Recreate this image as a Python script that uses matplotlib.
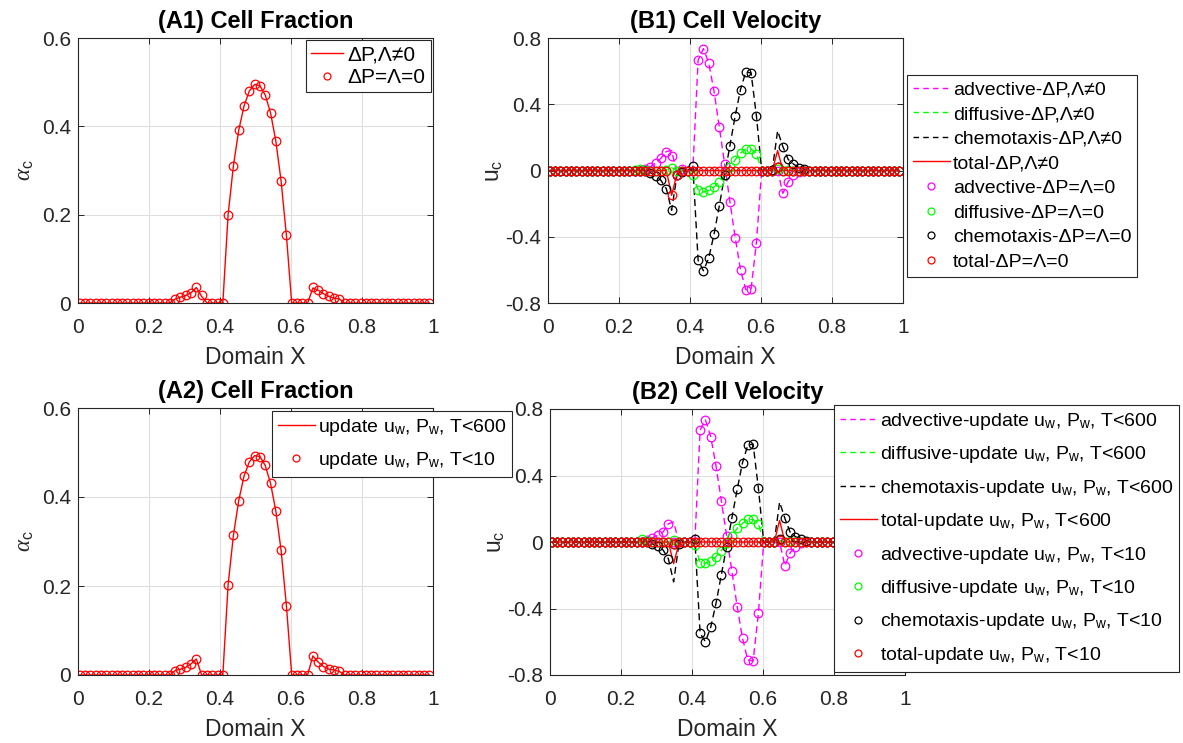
import numpy as np
import matplotlib
matplotlib.use("Agg")
import matplotlib.pyplot as plt
from matplotlib.lines import Line2D

plt.rcParams['font.family'] = ['Liberation Sans', 'DejaVu Sans']
plt.rcParams['mathtext.fontset'] = 'custom'
plt.rcParams['mathtext.rm'] = 'Liberation Sans'
plt.rcParams['mathtext.it'] = 'Liberation Serif:italic'
plt.rcParams['mathtext.bf'] = 'Liberation Sans:bold'

# --- grid (67 sample points) ---
x = np.linspace(0.005, 0.99, 67)
K0 = 16  # values below are for grid index 16..50, zero elsewhere

# --- (A) cell fraction ---
alpha_a1_line = [0, 0, 0.009, 0.013, 0.017, 0.023, 0.035, 0.015, 0, 0, 0, 0,
                 0.200, 0.311, 0.391, 0.446, 0.480, 0.495, 0.492, 0.471, 0.431, 0.367, 0.276, 0.153,
                 0, 0, 0, 0, 0.034, 0.029, 0.021, 0.015, 0.011, 0.009, 0]
alpha_a1_pts = [0, 0, 0.009, 0.013, 0.017, 0.023, 0.036, 0.017, 0, 0, 0, 0,
                0.200, 0.311, 0.391, 0.446, 0.480, 0.495, 0.492, 0.471, 0.431, 0.367, 0.276, 0.153,
                0, 0, 0, 0, 0.036, 0.029, 0.021, 0.015, 0.011, 0.009, 0]
alpha_a2_line = [0, 0, 0.010, 0.013, 0.017, 0.025, 0.036, 0, 0, 0, 0, 0,
                 0.203, 0.314, 0.392, 0.447, 0.479, 0.493, 0.491, 0.471, 0.431, 0.369, 0.280, 0.156,
                 0, 0, 0, 0, 0.043, 0.029, 0.019, 0.013, 0.011, 0.008, 0]
alpha_a2_pts = [0, 0, 0.010, 0.013, 0.017, 0.025, 0.036, 0, 0, 0, 0, 0,
                0.203, 0.314, 0.392, 0.447, 0.479, 0.493, 0.491, 0.471, 0.431, 0.369, 0.280, 0.156,
                0, 0, 0, 0, 0.043, 0.029, 0.019, 0.013, 0.011, 0.008, 0]

# --- (B1) cell velocity ---
adv_b1_line = [0, 0, 0.01, 0.023, 0.045, 0.075, 0.115, 0.12, -0.02, 0.01, 0, 0,
               0.666, 0.736, 0.650, 0.479, 0.262, 0.040, -0.188, -0.405, -0.600, -0.720, -0.714, -0.435,
               0, 0, 0, 0, -0.138, -0.067, -0.030, -0.010, -0.004, 0, 0]
adv_b1_pts = [0, 0, 0.01, 0.023, 0.045, 0.075, 0.113, 0.09, -0.03, 0.01, 0, 0,
              0.666, 0.736, 0.650, 0.479, 0.262, 0.040, -0.188, -0.405, -0.600, -0.720, -0.714, -0.435,
              0, 0, 0, 0, -0.138, -0.067, -0.030, -0.010, -0.004, 0, 0]
dif_b1_line = [0.005, 0.01, 0.005, 0, 0, 0, 0.005, 0.017, 0, 0, 0, -0.03,
               -0.117, -0.130, -0.120, -0.100, -0.070, -0.025, 0.020, 0.065, 0.105, 0.130, 0.130, 0.100,
               0, 0, 0, 0.01, 0, 0.005, 0, 0, 0, 0, 0]
dif_b1_pts = [0.005, 0.01, 0.005, 0, 0, 0, 0.005, 0.017, 0, 0, 0, -0.03,
              -0.117, -0.130, -0.120, -0.100, -0.070, -0.025, 0.020, 0.065, 0.105, 0.130, 0.130, 0.100,
              0, 0, 0, 0.01, 0, 0.005, 0, 0, 0, 0, 0]
chm_b1_line = [0, 0, 0, -0.013, -0.033, -0.06, -0.11, -0.24, -0.03, -0.01, 0, 0.027,
               -0.543, -0.605, -0.529, -0.385, -0.213, -0.030, 0.150, 0.330, 0.489, 0.595, 0.589, 0.330,
               0, 0, 0.003, 0.24, 0.144, 0.067, 0.039, 0.017, 0.007, 0, 0]
chm_b1_pts = [0, 0, 0, -0.013, -0.033, -0.06, -0.11, -0.24, -0.03, -0.01, 0, 0.027,
              -0.543, -0.605, -0.529, -0.385, -0.213, -0.030, 0.150, 0.330, 0.489, 0.595, 0.589, 0.330,
              0, 0, 0.003, 0.02, 0.144, 0.067, 0.039, 0.017, 0.007, 0, 0]
tot_b1_line = [0, 0, 0, 0, 0, 0, 0, -0.15, -0.02, 0, 0, 0,
               0, 0, 0, 0, 0, 0, 0, 0, 0, 0, 0, 0,
               0, 0, 0, 0.12, 0, 0, 0, 0, 0, 0, 0]
tot_b1_pts = [0, 0, 0, 0, 0, 0, 0, -0.147, -0.03, 0, 0, 0,
              0, 0, 0, 0, 0, 0, 0, 0, 0, 0, 0, 0,
              0, 0, 0, 0.02, 0, 0, 0, 0, 0, 0, 0]

# --- (B2) cell velocity ---
adv_b2_line = [0, 0, 0.01, 0.025, 0.04, 0.06, 0.11, 0.12, 0, 0, 0, 0,
               0.674, 0.734, 0.634, 0.457, 0.249, 0.038, -0.176, -0.389, -0.579, -0.710, -0.716, -0.429,
               0, 0, 0, 0, -0.144, -0.064, -0.028, -0.008, 0, 0, 0]
adv_b2_pts = [0, 0, 0.01, 0.025, 0.04, 0.06, 0.11, 0, 0, 0, 0, 0,
              0.674, 0.734, 0.634, 0.457, 0.249, 0.038, -0.176, -0.389, -0.579, -0.710, -0.716, -0.429,
              0, 0, 0, 0, -0.144, -0.064, -0.028, -0.008, 0, 0, 0]
dif_b2_line = [0.002, 0.016, 0.005, 0, 0, 0, 0, 0.01, 0, 0, 0, -0.02,
               -0.124, -0.128, -0.116, -0.088, -0.052, -0.008, 0.038, 0.082, 0.112, 0.136, 0.136, 0.108,
               0, 0, 0, 0.01, 0, 0.005, 0, 0, 0, 0, 0]
dif_b2_pts = [0.002, 0.016, 0.005, 0, 0, 0, 0, 0.01, 0, 0, 0, -0.02,
              -0.124, -0.128, -0.116, -0.088, -0.052, -0.008, 0.038, 0.082, 0.112, 0.136, 0.136, 0.108,
              0, 0, 0, 0.01, 0, 0.005, 0, 0, 0, 0, 0]
chm_b2_line = [0, 0, 0, -0.012, -0.024, -0.048, -0.10, -0.24, -0.01, 0, 0, 0.02,
               -0.549, -0.600, -0.513, -0.369, -0.198, -0.028, 0.146, 0.317, 0.477, 0.583, 0.589, 0.323,
               0, 0, 0.003, 0.24, 0.142, 0.058, 0.032, 0.016, 0.008, 0, 0]
chm_b2_pts = [0, 0, 0, -0.012, -0.024, -0.048, -0.10, -0.01, -0.01, 0, 0, 0.02,
              -0.549, -0.600, -0.513, -0.369, -0.198, -0.028, 0.146, 0.317, 0.477, 0.583, 0.589, 0.323,
              0, 0, 0.003, 0.02, 0.142, 0.058, 0.032, 0.016, 0.008, 0, 0]
tot_b2_line = [0, 0, 0, 0, 0, 0, 0, -0.13, -0.01, 0, 0, 0,
               0, 0, 0, 0, 0, 0, 0, 0, 0, 0, 0, 0,
               0, 0, 0, 0.13, 0, 0, 0, 0, 0, 0, 0]
tot_b2_pts = [0, 0, 0, 0, 0, 0, 0, -0.01, 0, 0, 0, 0,
              0, 0, 0, 0, 0, 0, 0, 0, 0, 0, 0, 0,
              0, 0, 0, 0.012, 0, 0, 0, 0, 0, 0, 0]

lab_a1 = ['ΔP,Λ≠0', 'ΔP=Λ=0']
upd = r'update u$_{\rm w}$, P$_{\rm w}$, '
lab_a2 = [upd + 'T<600', upd + 'T<10']
parts = ['advective', 'diffusive', 'chemotaxis', 'total']
lab_b1 = [p + '-ΔP,Λ≠0' for p in parts] + [p + '-ΔP=Λ=0' for p in parts]
lab_b2 = [p + '-' + upd + 'T<600' for p in parts] + [p + '-' + upd + 'T<10' for p in parts]

colors = ['#ff00ff', '#00ff00', '#000000', '#ff0000']
DARK = '#262626'
W, H = 1183, 743
MS = 6.2


def full(vals):
    y = np.zeros(len(x))
    y[K0:K0 + len(vals)] = vals
    return y


def style_axes(ax, yticks, ylim):
    ax.set_xlim(0, 1)
    ax.set_ylim(*ylim)
    ax.set_xticks([0, 0.2, 0.4, 0.6, 0.8, 1])
    ax.set_xticklabels(['0', '0.2', '0.4', '0.6', '0.8', '1'])
    ax.set_yticks(yticks)
    ax.set_yticklabels([('%g' % t) for t in yticks])
    ax.grid(True, color='#dedede', linewidth=0.8)
    ax.set_axisbelow(True)
    ax.tick_params(direction='in', top=True, right=True, length=4, width=0.7,
                   colors=DARK, labelsize=15)
    ax.tick_params(axis='x', pad=10.5)
    ax.tick_params(axis='y', pad=5)
    for s in ax.spines.values():
        s.set_color(DARK)
        s.set_linewidth(0.8)
    ax.set_xlabel('Domain X', fontsize=16.5, color=DARK, labelpad=7)


def add_axes(fig, l, t, r, b):
    return fig.add_axes([l / W, 1 - b / H, (r - l) / W, (b - t) / H])


def mk_legend(ax, fig, handles, labels, loc, px, py, fs, **kw):
    leg = ax.legend(handles, labels, loc=loc, bbox_to_anchor=(px / W, 1 - py / H),
                    bbox_transform=fig.transFigure, borderaxespad=0, fontsize=fs,
                    fancybox=False, framealpha=1, edgecolor=DARK, **kw)
    leg.get_frame().set_linewidth(0.8)
    leg.set_zorder(20)
    return leg


def line_h(c, ls):
    return Line2D([], [], color=c, linestyle=ls, linewidth=1.0)


def pt_h(c):
    return Line2D([], [], color=c, linestyle='none', marker='o', markersize=5,
                  markerfacecolor='none', markeredgewidth=0.9)


fig = plt.figure(figsize=(W / 100, H / 100), dpi=100)

# (A1)
ax = add_axes(fig, 78, 38, 433, 303)
ax.plot(x, full(alpha_a1_line), color='#ff0000', linewidth=1.0)
ax.plot(x, full(alpha_a1_pts), 'o', color='#ff0000', markersize=MS,
        markerfacecolor='none', markeredgewidth=0.9)
style_axes(ax, [0, 0.2, 0.4, 0.6], (0, 0.6))
ax.set_ylabel(r'$\alpha_{\rm c}$', fontsize=16.5, color=DARK, labelpad=4)
ax.set_title('(A1) Cell Fraction', fontsize=17, fontweight='bold', color='#000000', pad=7)
mk_legend(ax, fig, [line_h('#ff0000', '-'), pt_h('#ff0000')], lab_a1, 'upper right', 431, 40, 15,
          handlelength=1.5, handletextpad=0.25, borderpad=0.25, labelspacing=0.18)

# (A2)
ax = add_axes(fig, 78, 408, 433, 675)
ax.plot(x, full(alpha_a2_line), color='#ff0000', linewidth=1.0)
ax.plot(x, full(alpha_a2_pts), 'o', color='#ff0000', markersize=MS,
        markerfacecolor='none', markeredgewidth=0.9)
style_axes(ax, [0, 0.2, 0.4, 0.6], (0, 0.6))
ax.set_ylabel(r'$\alpha_{\rm c}$', fontsize=16.5, color=DARK, labelpad=4)
ax.set_title('(A2) Cell Fraction', fontsize=17, fontweight='bold', color='#000000', pad=7)
mk_legend(ax, fig, [line_h('#ff0000', '-'), pt_h('#ff0000')], lab_a2, 'upper left', 272, 411, 14,
          handlelength=1.9, handletextpad=0.15, borderpad=0.3, labelspacing=0.62)

b_sets = [
    ((548, 38, 903, 303), [adv_b1_line, dif_b1_line, chm_b1_line, tot_b1_line],
     [adv_b1_pts, dif_b1_pts, chm_b1_pts, tot_b1_pts], '(B1) Cell Velocity', lab_b1, (907, 75), 14, 0.36),
    ((550, 409, 905, 675), [adv_b2_line, dif_b2_line, chm_b2_line, tot_b2_line],
     [adv_b2_pts, dif_b2_pts, chm_b2_pts, tot_b2_pts], '(B2) Cell Velocity', lab_b2, (834, 405), 14, 0.64),
]
for box, lines, pts, title, labels, lpos, fs, lsp in b_sets:
    ax = add_axes(fig, *box)
    for c, ys in zip(colors, lines):
        ls = '-' if c == '#ff0000' else (0, (5, 3))
        ax.plot(x, full(ys), color=c, linestyle=ls, linewidth=1.0)
    for c, ys in zip(colors, pts):
        ax.plot(x, full(ys), 'o', color=c, markersize=MS, markerfacecolor='none', markeredgewidth=0.9)
    style_axes(ax, [-0.8, -0.4, 0, 0.4, 0.8], (-0.8, 0.8))
    ax.set_ylabel(r'u$_{\rm c}$', fontsize=16.5, color=DARK, labelpad=0)
    ax.set_title(title, fontsize=17, fontweight='bold', color='#000000', pad=7)
    handles = [line_h(c, '-' if c == '#ff0000' else (0, (4, 3))) for c in colors] + [pt_h(c) for c in colors]
    mk_legend(ax, fig, handles, labels, 'upper left', lpos[0], lpos[1], fs,
              handlelength=1.9, handletextpad=0.15, borderpad=0.3, labelspacing=lsp)

fig.savefig('out.png', dpi=100)
